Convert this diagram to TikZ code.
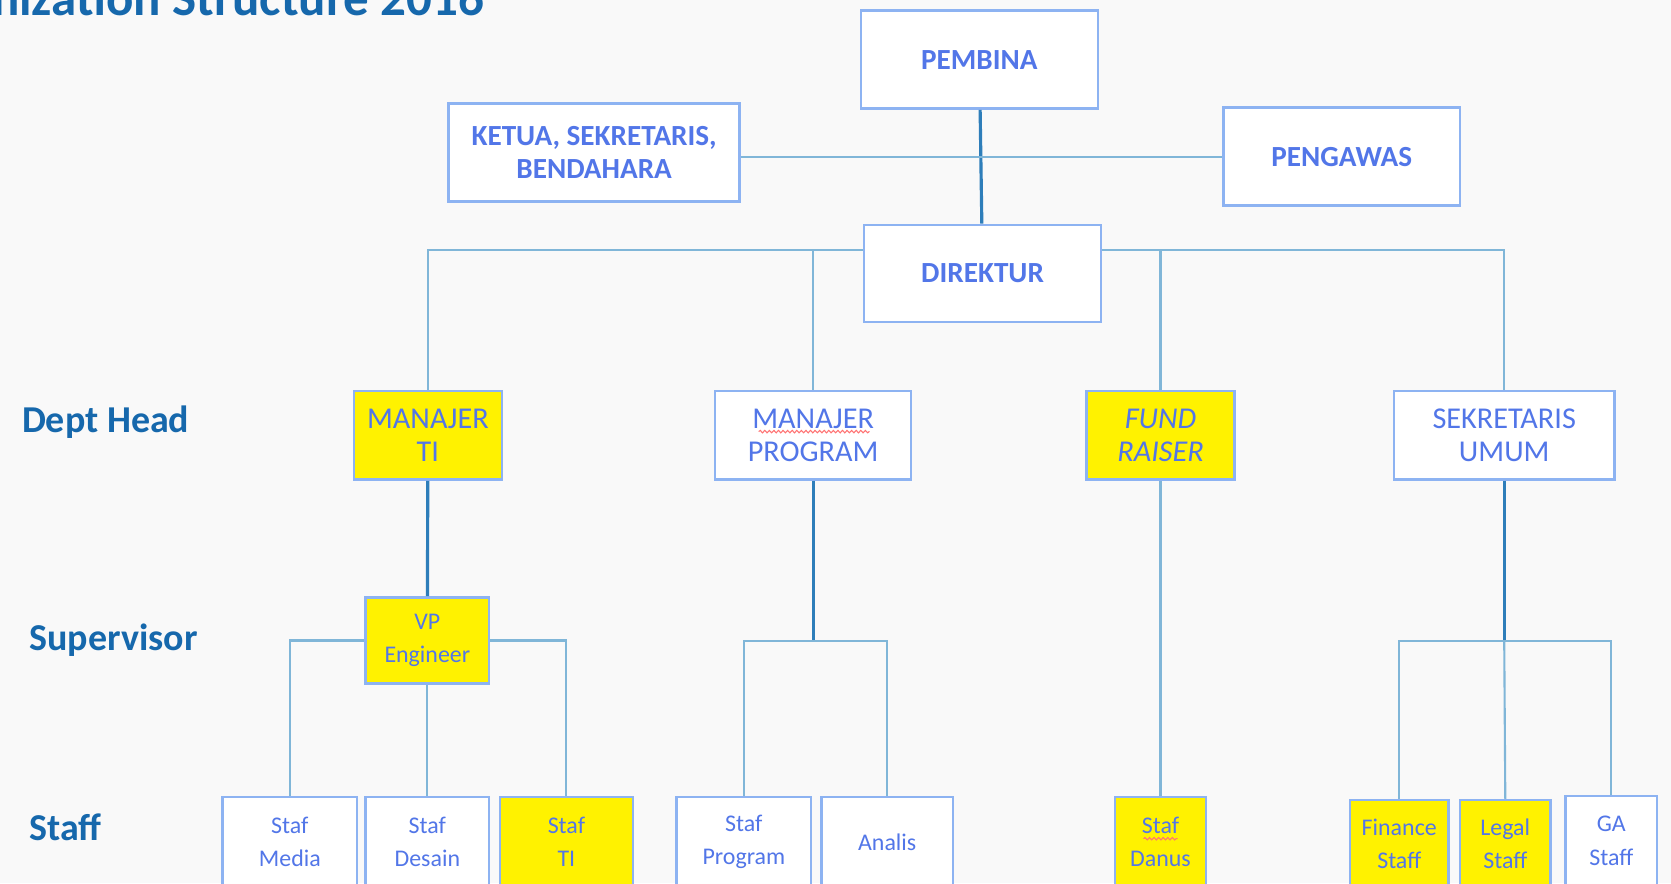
\documentclass[tikz,border=0pt]{standalone}
\usepackage{fontspec}
\setmainfont{Carlito}
\usetikzlibrary{decorations.pathmorphing}
\definecolor{bgcol}{RGB}{249,249,249}
\definecolor{boxline}{RGB}{141,179,242}
\definecolor{boxtext}{RGB}{82,118,232}
\definecolor{leveltext}{RGB}{22,104,172}
\definecolor{linelight}{RGB}{128,182,216}
\definecolor{linedark}{RGB}{46,126,186}
\begin{document}
\begin{tikzpicture}[x=0.010657cm, y=-0.010657cm,
		top/.style={draw=boxline, line width=0.7pt, fill=white, text=boxtext, align=center, inner sep=0pt, font=\fontsize{8.3}{9.4}\selectfont\bfseries},
		dept/.style={draw=boxline, line width=0.7pt, fill=white, text=boxtext, align=center, inner sep=0pt, minimum height=0.885cm, font=\fontsize{8.6}{9.4}\selectfont},
		small/.style={draw=boxline, line width=0.7pt, fill=white, text=boxtext, align=center, inner sep=0pt, font=\fontsize{6.8}{9.4}\selectfont},
		hilite/.style={fill=yellow},
		level/.style={anchor=west, inner sep=0pt, text=leveltext, font=\fontsize{10.8}{12}\selectfont\bfseries},
		link/.style={draw=linelight, line width=0.6pt},
		trunk/.style={draw=linedark, line width=0.9pt},
		typo/.style={draw=red!55, line width=0.3pt, decorate, decoration={snake, amplitude=0.35pt, segment length=1.3pt}}]
			\useasboundingbox (0,0) rectangle (1568,829);
			\clip (0,0) rectangle (1568,829);
			\fill [bgcol] (0,0) rectangle (1568,829);
			
			\node [anchor=base east, inner sep=0pt, text=leveltext, font=\fontsize{14.5}{16}\selectfont\bfseries] (title) at (455,15) {Organization Structure 2016};
			
			\node [level] (lhead) at (20,396) {Dept Head};
			\node [level] (lsup) at (27,601) {Supervisor};
			\node [level] (lstaff) at (27,776) {Staff};
			
			\node [top, minimum width=2.366cm, minimum height=0.980cm] (pembina) at (919,56) {PEMBINA};
			\node [top, minimum width=2.909cm, minimum height=0.980cm] (ketua) at (557.5,143) {KETUA, SEKRETARIS,\\BENDAHARA};
			\node [top, minimum width=2.366cm, minimum height=0.980cm] (pengawas) at (1259,147) {PENGAWAS};
			\node [top, minimum width=2.366cm, minimum height=0.970cm] (direktur) at (922,256.5) {DIREKTUR};
			
			\node [dept, hilite, minimum width=1.481cm] (mti) at (401.5,408.5) {MANAJER\\TI};
			\node [dept, minimum width=1.961cm] (mprog) at (763,408.5) {MANAJER\\PROGRAM};
			\node [dept, hilite, minimum width=1.481cm, font=\fontsize{8.6}{9.4}\selectfont\itshape] (fund) at (1089,408.5) {FUND\\RAISER};
			\node [dept, minimum width=2.206cm] (sekum) at (1411.5,408.5) {SEKRETARIS\\UMUM};
			
			\node [small, hilite, minimum width=1.236cm, minimum height=0.863cm] (vp) at (401,601) {VP\\Engineer};
			
			\node [small, minimum width=1.343cm, minimum height=0.900cm] (smedia) at (272,790) {Staf\\Media};
			\node [small, minimum width=1.236cm, minimum height=0.900cm] (sdesain) at (401,790) {Staf\\Desain};
			\node [small, hilite, minimum width=1.332cm, minimum height=0.900cm] (sti) at (531.5,790) {Staf\\TI};
			\node [small, minimum width=1.343cm, minimum height=0.900cm] (sprog) at (698,790) {Staf\\Program};
			\node [small, minimum width=1.311cm, minimum height=0.900cm] (analis) at (832.5,790) {Analis};
			\node [small, hilite, minimum width=0.906cm, minimum height=0.900cm] (danus) at (1089,790) {Staf\\Danus};
			\node [small, hilite, minimum width=0.980cm, minimum height=0.880cm] (finance) at (1313,792) {Finance\\Staff};
			\node [small, hilite, minimum width=0.906cm, minimum height=0.880cm] (legal) at (1412.5,792) {Legal\\Staff};
			\node [small, minimum width=0.917cm, minimum height=0.900cm] (ga) at (1512,789) {GA\\Staff};
			
			\draw [trunk] (pembina) -- (direktur);
			\draw [link] (pengawas.west -| ketua.east) -- (pengawas.west);
			
			\coordinate (barL) at ([yshift=0.23cm]direktur.west);
			\coordinate (barR) at ([yshift=0.23cm]direktur.east);
			\draw [link] (barL) -| (mti.north);
			\draw [link] (barR) -| (sekum.north);
			\draw [link] (mprog.north) -- (mprog.north |- barL);
			\draw [link] (fund.north) -- (fund.north |- barR);
			
			\draw [trunk] (mti) -- (vp);
			\draw [link] (vp.west) -| (smedia.north);
			\draw [link] (vp.east) -| (sti.north);
			\draw [link] (vp.south) -- (sdesain.north);
			
			\draw [trunk] (mprog.south) -- ([yshift=-1.6cm]mprog.south) coordinate (pj);
			\draw [link] (sprog.north) |- (pj) -| (analis.north);
			
			\draw [link] (fund.south) -- (danus.north);
			
			\draw [trunk] (sekum.south) -- ([yshift=-1.6cm]sekum.south) coordinate (uj);
			\draw [link] (uj) -- (legal.north);
			\draw [link] (finance.north) |- (uj) -| (ga.north);
			
			\draw [typo] (712,405) -- (816,405);
			\draw [typo] (1073,787) -- (1105,787);
		\end{tikzpicture}
\end{document}
